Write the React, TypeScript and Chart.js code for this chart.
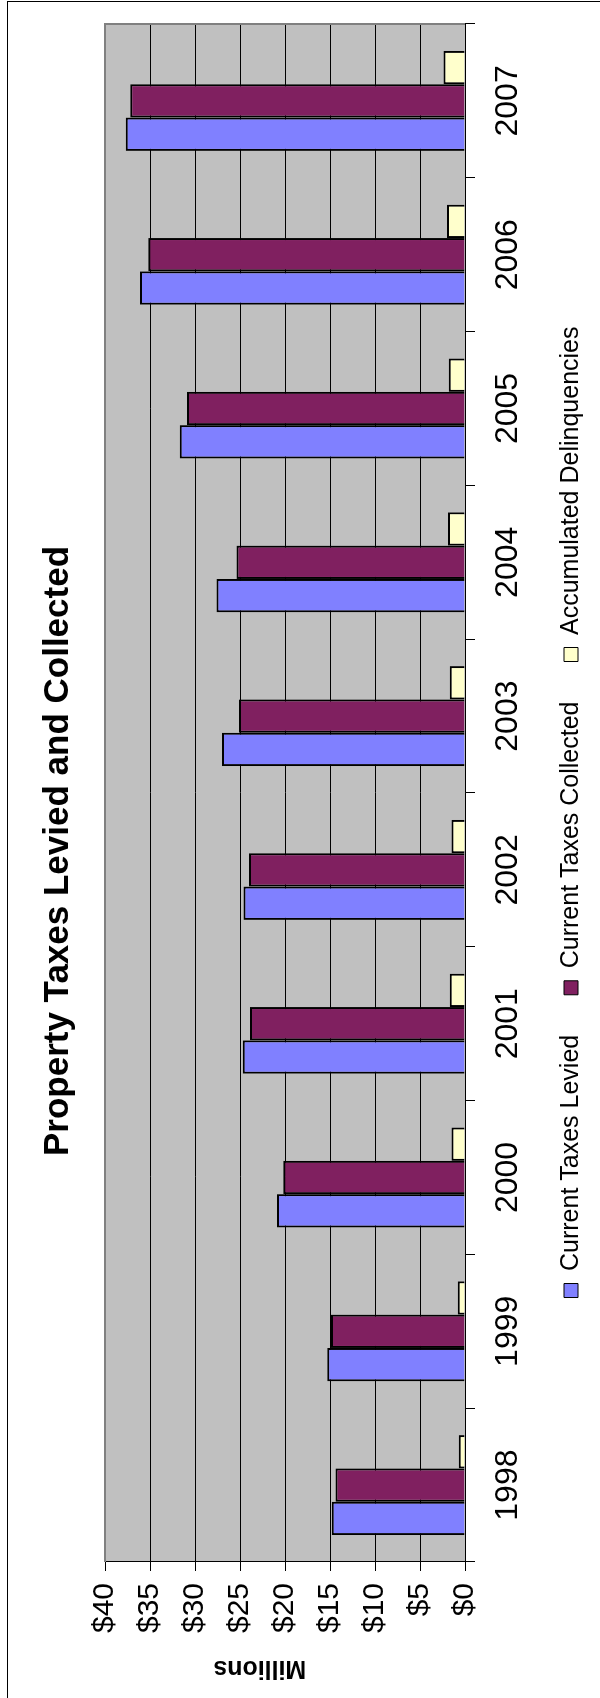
import React, { useEffect, useRef } from "react";
import { Chart, registerables } from "chart.js";

Chart.register(...registerables);

// Fiscal years on the category axis
const years = ["1998", "1999", "2000", "2001", "2002", "2003", "2004", "2005", "2006", "2007"];

// Values in millions of dollars
const levied = [14.8, 15.3, 20.9, 24.7, 24.6, 27.0, 27.6, 31.7, 36.1, 37.7];
const collected = [14.4, 14.9, 20.2, 23.9, 24.0, 25.1, 25.4, 30.9, 35.2, 37.2];
const delinquencies = [0.7, 0.8, 1.5, 1.7, 1.5, 1.7, 1.9, 1.8, 2.0, 2.4];

const seriesNames = ["Current Taxes Levied", "Current Taxes Collected", "Accumulated Delinquencies"];
const seriesColors = ["#8080FF", "#802060", "#FFFFCC"];

const valueMin = 0;
const valueMax = 40;
const valueStep = 5;

const chartTitle = "Property Taxes Levied and Collected";
const valueAxisTitle = "Millions";

const FONT = '"Liberation Sans", Arial, Helvetica, sans-serif';

// The chart is laid out landscape and turned a quarter-turn on the page.
const CHART_W = 1698;
const CHART_H = 600;

// Grey plot background with a grey frame on the two edges away from the axes
const plotFrame = {
  id: "plotFrame",
  beforeDraw(chart: any) {
    const { ctx, chartArea } = chart;
    const { left, top, right, bottom } = chartArea;
    ctx.save();
    ctx.fillStyle = "#C0C0C0";
    ctx.fillRect(left, top, right - left, bottom - top);
    ctx.restore();
  },
  beforeDatasetsDraw(chart: any) {
    const { ctx, chartArea } = chart;
    const { left, top, right, bottom } = chartArea;
    ctx.save();
    ctx.strokeStyle = "#808080";
    ctx.lineWidth = 2;
    ctx.beginPath();
    ctx.moveTo(left, top);
    ctx.lineTo(right, top);
    ctx.lineTo(right, bottom);
    ctx.stroke();
    ctx.restore();
  },
};

// Value-axis caption, set a little above the middle of the axis
const valueCaption = {
  id: "valueCaption",
  afterDraw(chart: any) {
    const { ctx, chartArea } = chart;
    const cy = chartArea.top + (chartArea.bottom - chartArea.top) * 0.43;
    ctx.save();
    ctx.translate(30, cy);
    ctx.rotate(-Math.PI / 2);
    ctx.font = `bold 25px ${FONT}`;
    ctx.fillStyle = "#000000";
    ctx.textAlign = "center";
    ctx.textBaseline = "middle";
    ctx.fillText(valueAxisTitle, 0, 0);
    ctx.restore();
  },
};

// Nudge the legend row a little toward the value axis
const legendNudge = {
  id: "legendNudge",
  afterLayout(chart: any) {
    const lg = chart.legend;
    if (lg) lg.left -= 38;
  },
};

function TaxChart() {
  const canvasRef = useRef<HTMLCanvasElement | null>(null);

  useEffect(() => {
    const canvas = canvasRef.current;
    if (!canvas) return;
    const values = [levied, collected, delinquencies];
    const chart = new Chart(canvas, {
      type: "bar",
      data: {
        labels: years,
        datasets: values.map((data, i) => ({
          label: seriesNames[i],
          data,
          backgroundColor: seriesColors[i],
          borderColor: "#000000",
          borderWidth: 2,
          categoryPercentage: 0.65,
          barPercentage: 1.0,
        })),
      },
      options: {
        responsive: false,
        animation: false,
        devicePixelRatio: 1,
        layout: { padding: { left: 20, right: 24, top: 0, bottom: 6.5 } },
        plugins: {
          title: {
            display: true,
            text: chartTitle,
            color: "#000000",
            font: { family: FONT, size: 35, weight: "bold" },
            padding: { top: 37, bottom: 26 },
          },
          legend: {
            position: "bottom",
            fullSize: false,
            labels: {
              boxWidth: 14,
              boxHeight: 14,
              padding: 40,
              color: "#000000",
              font: { family: FONT, size: 25 },
              generateLabels: (c: any) =>
                Chart.defaults.plugins.legend.labels
                  .generateLabels(c)
                  .map((item: any) => ({ ...item, lineWidth: 1 })),
            },
          },
          tooltip: { enabled: false },
        },
        scales: {
          x: {
            grid: {
              display: true,
              drawOnChartArea: false,
              drawTicks: true,
              tickLength: 32.5,
              tickBorderDash: [9, 200],
              offset: true,
              color: "#000000",
              lineWidth: 1,
            },
            border: { display: true, color: "#000000", width: 1 },
            ticks: {
              color: "#000000",
              font: { family: FONT, size: 32, lineHeight: 0.09375 },
              padding: 9,
              maxRotation: 0,
              autoSkip: false,
            },
          },
          y: {
            min: valueMin,
            max: valueMax,
            afterFit: (scale: any) => {
              scale.width = 116;
            },
            grid: { color: "#000000", lineWidth: 1, tickLength: 9, drawTicks: true },
            border: { display: true, color: "#000000", width: 1 },
            ticks: {
              stepSize: valueStep,
              autoSkip: false,
              color: "#000000",
              padding: 12,
              font: { family: FONT, size: 30 },
              callback: (v: any) => "$" + v,
            },
          },
        },
      },
      plugins: [plotFrame, valueCaption, legendNudge],
    });
    return () => chart.destroy();
  }, []);

  return (
    <div
      style={{
        position: "absolute",
        left: 0,
        top: 0,
        width: CHART_W,
        height: CHART_H,
        transformOrigin: "0 0",
        transform: `translate(0px, ${CHART_W}px) rotate(-90deg)`,
      }}
    >
      <div
        style={{
          position: "absolute",
          left: -10,
          top: 7,
          width: CHART_W + 10 - 1,
          height: CHART_H + 100,
          border: "1px solid #000",
          boxSizing: "border-box",
        }}
      />
      <canvas
        ref={canvasRef}
        width={CHART_W}
        height={CHART_H}
        style={{ position: "absolute", left: 0, top: 0, display: "block" }}
      />
    </div>
  );
}

export default function App() {
  return (
    <div
      style={{
        position: "absolute",
        left: 0,
        top: 0,
        width: 600,
        height: 1698,
        overflow: "hidden",
        background: "#fff",
      }}
    >
      <TaxChart />
    </div>
  );
}
